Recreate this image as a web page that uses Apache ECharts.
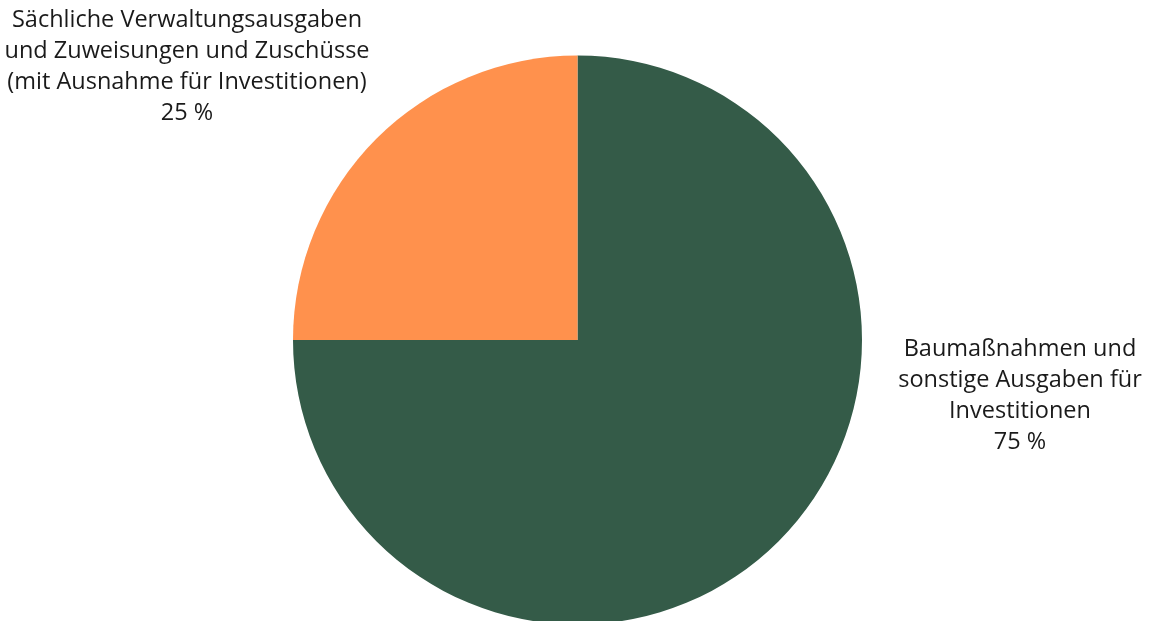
<!DOCTYPE html>
<html>
<head>
<meta charset="utf-8">
<script src="https://cdn.jsdelivr.net/npm/echarts@6/dist/echarts.min.js"></script>
<style>html,body{margin:0;padding:0;background:#fff}#c{width:1153px;height:621px}</style>
</head>
<body>
<div id="c"></div>
<script>
const categories = [
  "Baumaßnahmen und\nsonstige Ausgaben für\nInvestitionen",
  "Sächliche Verwaltungsausgaben\nund Zuweisungen und Zuschüsse\n(mit Ausnahme für Investitionen)"
];
const values = [75, 25];
const colors = ["#345b48", "#ff914d"];
const labelPos = [[1020, 396], [187, 67]];

const chart = echarts.init(document.getElementById('c'), null, {renderer: 'canvas'});
chart.setOption({
  animation: false,
  series: [{
    type: 'pie',
    center: [577.5, 340],
    radius: 284.5,
    startAngle: 90,
    clockwise: true,
    data: categories.map((n, i) => ({name: n, value: values[i], itemStyle: {color: colors[i]}})),
    itemStyle: {borderWidth: 0},
    label: {
      show: true,
      position: 'outside',
      formatter: p => p.name + '\n' + p.value + ' %',
      fontFamily: 'Open Sans',
      fontSize: 23.5,
      lineHeight: 31,
      color: '#1a1a1a',
      align: 'center',
      width: 500,
      overflow: 'none'
    },
    labelLine: {show: false},
    labelLayout: function (params) {
      const pos = labelPos[params.dataIndex];
      return {x: pos[0], y: pos[1], align: 'center', verticalAlign: 'middle'};
    },
    emphasis: {disabled: true}
  }]
});
</script>
</body>
</html>
